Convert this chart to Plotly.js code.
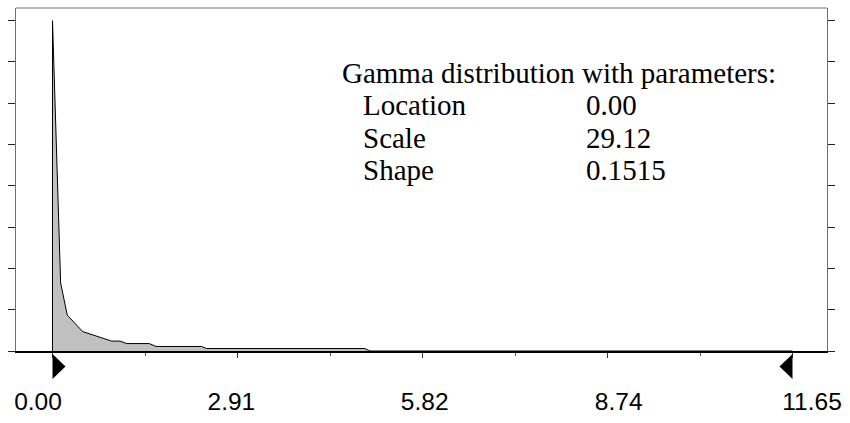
<!DOCTYPE html>
<html>
<head>
<meta charset="utf-8">
<script src="https://cdn.plot.ly/plotly-3.0.1.min.js"></script>
<style>
  html, body { margin: 0; padding: 0; background: #ffffff; }
  #chart { width: 850px; height: 423px; }
</style>
</head>
<body>
<div id="chart"></div>
<script>
// Fitted density outline (x in data units, y in relative density)
const densityX = [0, 0, 0.128, 0.232, 0.475, 0.695, 0.931, 1.062, 1.168, 1.524, 1.629, 2.348, 2.427, 4.918, 4.997, 11.65];
const densityY = [0, 0.800, 0.165, 0.087, 0.047, 0.036, 0.024, 0.024, 0.018, 0.018, 0.011, 0.011, 0.006, 0.006, 0, 0];

// Axis labels along the bottom
const tickValues = [0, 2.91, 5.82, 8.74, 11.65];
const tickLabels = ['0.00', '2.91', '5.82', '8.74', '11.65'];

// Fitted distribution parameters
const fitTitle = 'Gamma distribution with parameters:';
const paramNames = ['Location', 'Scale', 'Shape'];
const paramValues = ['0.00', '29.12', '0.1515'];

const rangeMin = tickValues[0];
const rangeMax = tickValues[tickValues.length - 1];
const majorStep = (rangeMax - rangeMin) / 4;

const serif = '"Liberation Serif", "Times New Roman", serif';
const sans = '"Liberation Sans", Arial, sans-serif';

const traces = [
  {
    x: densityX,
    y: densityY,
    type: 'scatter',
    mode: 'lines',
    fill: 'tozeroy',
    fillcolor: '#c0c0c0',
    line: { color: '#000000', width: 1 },
    hoverinfo: 'skip',
    showlegend: false
  },
  {
    // carries the label axis
    x: [],
    y: [],
    xaxis: 'x2',
    type: 'scatter',
    mode: 'markers',
    showlegend: false,
    hoverinfo: 'skip'
  }
];

const annotations = [];
const top0 = 8;
annotations.push({
  text: fitTitle, xref: 'paper', yref: 'paper', x: 0, y: 1,
  xanchor: 'left', yanchor: 'middle', xshift: 324, yshift: -(72.6 - top0),
  showarrow: false, font: { family: serif, size: 29, color: '#000' }
});
paramNames.forEach(function (name, i) {
  const cy = 105.4 + i * 32.4;
  annotations.push({
    text: name, xref: 'paper', yref: 'paper', x: 0, y: 1,
    xanchor: 'left', yanchor: 'middle', xshift: 345, yshift: -(cy - top0),
    showarrow: false, font: { family: serif, size: 29, color: '#000' }
  });
  annotations.push({
    text: paramValues[i], xref: 'paper', yref: 'paper', x: 0, y: 1,
    xanchor: 'left', yanchor: 'middle', xshift: 568, yshift: -(cy - top0),
    showarrow: false, font: { family: serif, size: 29, color: '#000' }
  });
});

// Range markers below the axis: right-pointing at the start, left-pointing at the end
const shapes = [
  {
    type: 'path', xref: 'x', yref: 'paper',
    xsizemode: 'pixel', xanchor: rangeMin,
    ysizemode: 'pixel', yanchor: 0,
    path: 'M0,-3 L13,-15.5 L0,-28 Z',
    fillcolor: '#000000', line: { width: 0 }
  },
  {
    type: 'path', xref: 'x', yref: 'paper',
    xsizemode: 'pixel', xanchor: rangeMax,
    ysizemode: 'pixel', yanchor: 0,
    path: 'M0,-3 L-13,-15.5 L0,-28 Z',
    fillcolor: '#000000', line: { width: 0 }
  },
  {
    // top frame edge
    type: 'line', xref: 'paper', yref: 'paper',
    x0: 0, x1: 1, y0: 1, y1: 1,
    line: { color: '#707070', width: 1 }
  }
];

const layout = {
  width: 850,
  height: 423,
  margin: { l: 16, r: 23, t: 8, b: 72, pad: 0 },
  paper_bgcolor: '#ffffff',
  plot_bgcolor: '#ffffff',
  showlegend: false,
  xaxis: {
    range: [-0.5746, 12.193],
    showgrid: false,
    zeroline: false,
    showline: true,
    linecolor: '#000000',
    linewidth: 2,
    ticks: 'outside',
    tick0: rangeMin,
    dtick: majorStep,
    ticklen: 5,
    tickwidth: 1,
    tickcolor: '#333333',
    showticklabels: false,
    minor: { dtick: majorStep / 2, tick0: rangeMin, ticks: 'outside', ticklen: 2.5, tickwidth: 1, tickcolor: '#555555', showgrid: false }
  },
  xaxis2: {
    overlaying: 'x',
    anchor: 'y',
    side: 'bottom',
    range: [-0.3311, 11.875],
    showgrid: false,
    zeroline: false,
    showline: false,
    ticks: '',
    tickmode: 'array',
    tickvals: tickValues,
    ticktext: tickLabels,
    ticklabelstandoff: 33,
    tickfont: { family: sans, size: 24.5, color: '#000000' }
  },
  yaxis: {
    range: [0, 0.8307],
    showgrid: false,
    zeroline: false,
    showline: true,
    linecolor: '#707070',
    linewidth: 1,
    mirror: 'allticks',
    ticks: 'outside',
    tick0: 0,
    dtick: 0.2,
    ticklen: 7.4,
    tickwidth: 1,
    tickcolor: '#222222',
    showticklabels: false,
    minor: { dtick: 0.1, tick0: 0, ticks: 'outside', ticklen: 4.7, tickwidth: 1, tickcolor: '#222222', showgrid: false }
  },
  annotations: annotations,
  shapes: shapes
};

Plotly.newPlot('chart', traces, layout, { staticPlot: true, displayModeBar: false });
</script>
</body>
</html>
